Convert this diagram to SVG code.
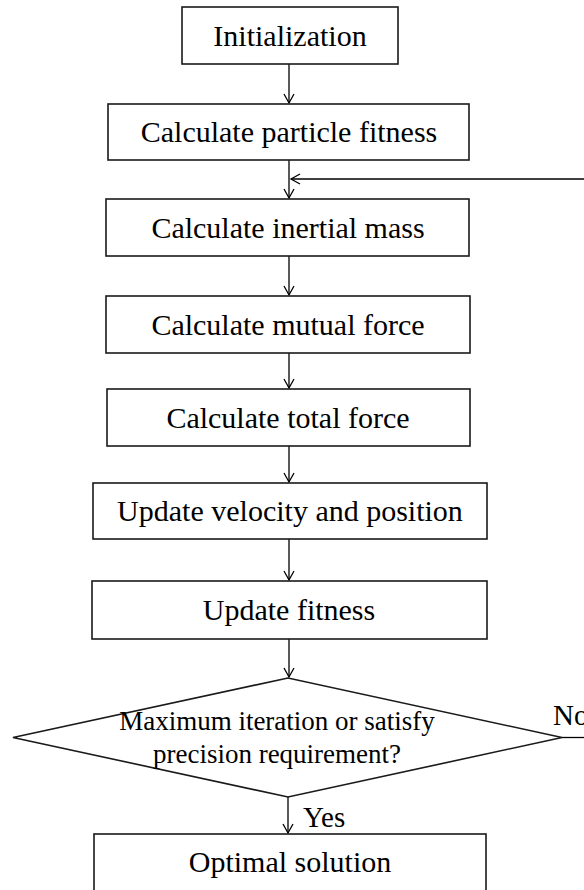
<svg xmlns="http://www.w3.org/2000/svg" width="584" height="890" viewBox="0 0 584 890">
<defs>
<marker id="arr" markerWidth="12" markerHeight="12" refX="10" refY="6" orient="auto" markerUnits="userSpaceOnUse">
<path d="M1,1 L10,6 L1,11" fill="none" stroke="#000" stroke-width="1.3"/>
</marker>
<style>
.box{fill:#fff;stroke:#1a1a1a;stroke-width:1.6}
.t{font-family:"Liberation Serif","Times New Roman",serif;font-size:30px;fill:#000;text-anchor:middle}
.d{font-family:"Liberation Serif","Times New Roman",serif;font-size:27px;fill:#000;text-anchor:middle}
.l{font-family:"Liberation Serif","Times New Roman",serif;font-size:29px;fill:#000}
.c{fill:none;stroke:#000;stroke-width:1.3}
</style>
</defs>
<rect width="584" height="890" fill="#fff"/>
<g id="connectors">
<line class="c" x1="289" y1="64" x2="289" y2="103" marker-end="url(#arr)"/>
<line class="c" x1="289" y1="160" x2="289" y2="198" marker-end="url(#arr)"/>
<line class="c" x1="584" y1="179" x2="291" y2="179" marker-end="url(#arr)"/>
<line class="c" x1="289" y1="256" x2="289" y2="295" marker-end="url(#arr)"/>
<line class="c" x1="289" y1="353" x2="289" y2="388" marker-end="url(#arr)"/>
<line class="c" x1="289" y1="446" x2="289" y2="482" marker-end="url(#arr)"/>
<line class="c" x1="289" y1="539" x2="289" y2="580" marker-end="url(#arr)"/>
<line class="c" x1="289" y1="639" x2="289" y2="677" marker-end="url(#arr)"/>
<line class="c" x1="288" y1="797" x2="288" y2="833" marker-end="url(#arr)"/>
<line class="c" x1="562" y1="737.5" x2="584" y2="737.5"/>
<text class="l" x="303" y="827">Yes</text>
<text class="l" x="553" y="725">No</text>
</g>
<g id="init"><rect class="box" x="182" y="7" width="216" height="57"/><text class="t" x="290" y="46">Initialization</text></g>
<g id="fitness"><rect class="box" x="108" y="104" width="361" height="56"/><text class="t" x="289" y="142">Calculate particle fitness</text></g>
<g id="mass"><rect class="box" x="106" y="199" width="363" height="57"/><text class="t" x="288" y="238">Calculate inertial mass</text></g>
<g id="mutual"><rect class="box" x="106" y="296" width="364" height="57"/><text class="t" x="288" y="335">Calculate mutual force</text></g>
<g id="total"><rect class="box" x="107" y="389" width="363" height="57"/><text class="t" x="288" y="428">Calculate total force</text></g>
<g id="update"><rect class="box" x="93" y="483" width="394" height="56"/><text class="t" x="290" y="521">Update velocity and position</text></g>
<g id="updfit"><rect class="box" x="92" y="581" width="395" height="58"/><text class="t" x="289" y="620">Update fitness</text></g>
<g id="decision"><polygon class="box" points="13,737.5 288,678 562,737.5 288,797"/><text class="d" x="277" y="730">Maximum iteration or satisfy</text><text class="d" x="277" y="763">precision requirement?</text></g>
<g id="optimal"><rect class="box" x="94" y="834" width="392" height="70"/><text class="t" x="290" y="872">Optimal solution</text></g>
</svg>
